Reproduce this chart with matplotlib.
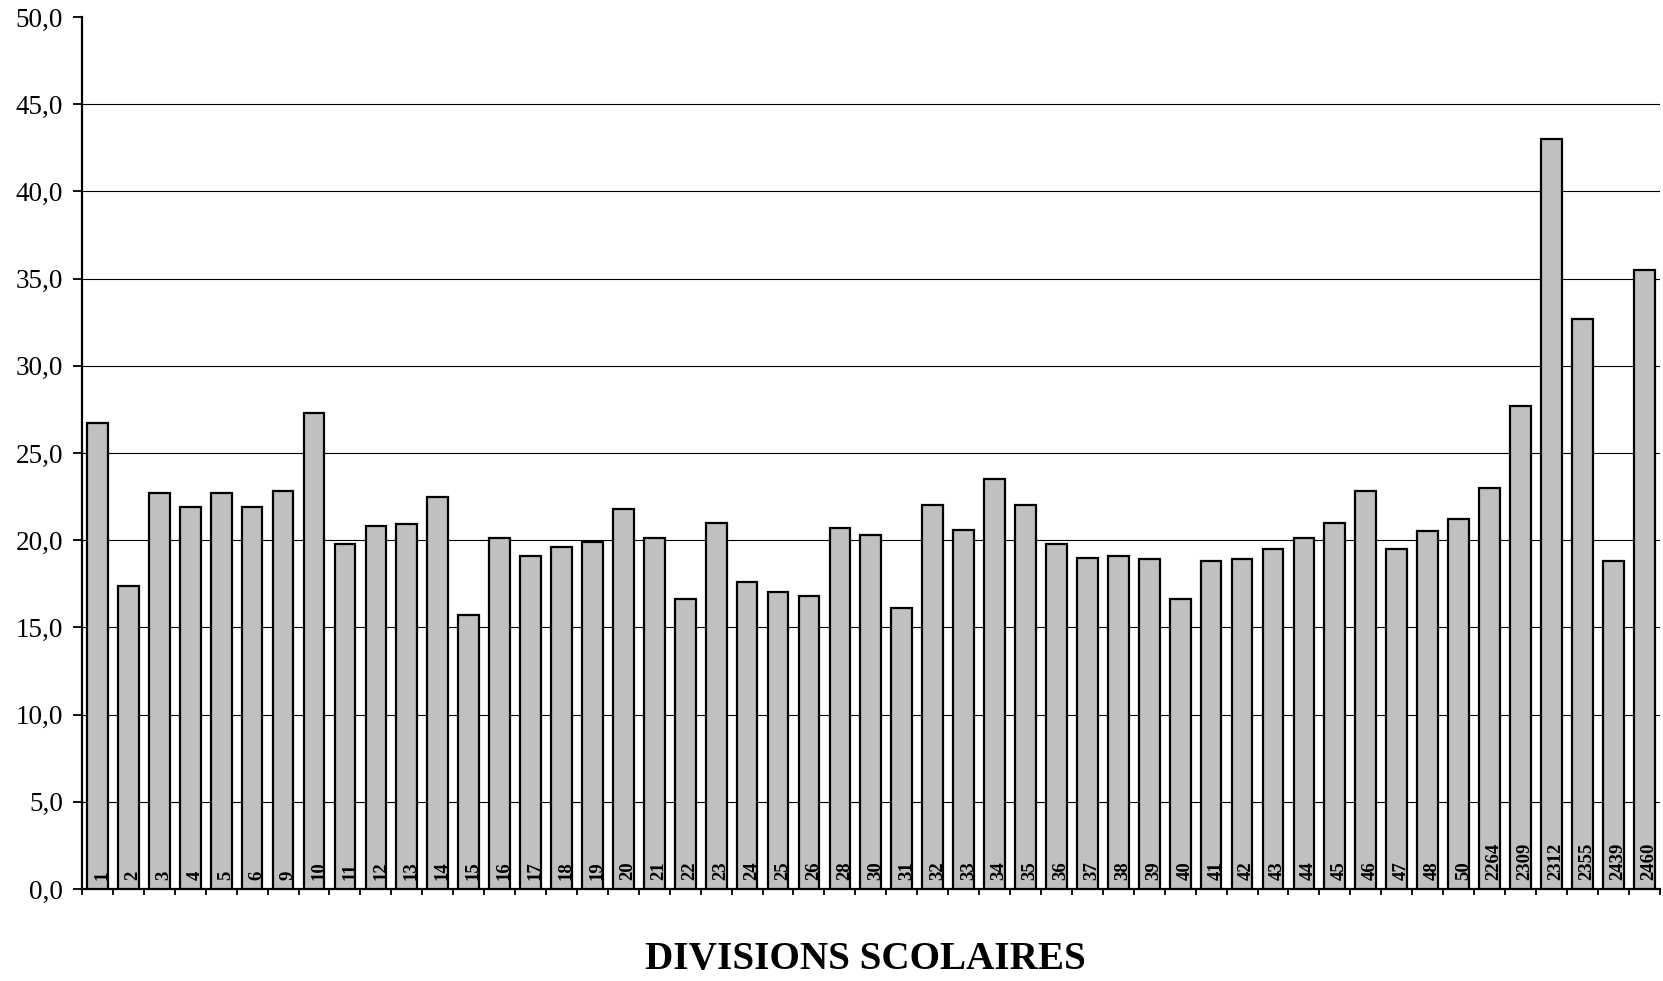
import matplotlib

matplotlib.use("Agg")

import matplotlib.pyplot as plt
import numpy as np
from matplotlib.ticker import FuncFormatter, MultipleLocator

divisions = [
    "1", "2", "3", "4", "5", "6", "9", "10", "11", "12", "13", "14", "15",
    "16", "17", "18", "19", "20", "21", "22", "23", "24", "25", "26", "28",
    "30", "31", "32", "33", "34", "35", "36", "37", "38", "39", "40", "41",
    "42", "43", "44", "45", "46", "47", "48", "50", "2264", "2309", "2312",
    "2355", "2439", "2460",
]
values = [
    26.7, 17.4, 22.7, 21.9, 22.7, 21.9, 22.8, 27.3, 19.8, 20.8, 20.9, 22.5, 15.7,
    20.1, 19.1, 19.6, 19.9, 21.8, 20.1, 16.6, 21.0, 17.6, 17.0, 16.8, 20.7,
    20.3, 16.1, 22.0, 20.6, 23.5, 22.0, 19.8, 19.0, 19.1, 18.9, 16.6, 18.8,
    18.9, 19.5, 20.1, 21.0, 22.8, 19.5, 20.5, 21.2, 23.0, 27.7, 43.0,
    32.7, 18.8, 35.5,
]
x_title = "DIVISIONS SCOLAIRES"

plt.rcParams["font.family"] = ["Liberation Serif", "DejaVu Serif"]

fig = plt.figure(figsize=(16.63, 9.81), dpi=100)
ax = fig.add_axes([0.0493, 0.0938, 0.9487, 0.8889])

x = np.arange(len(divisions))
ax.bar(x, values, width=0.67, color="#c0c0c0", edgecolor="black", linewidth=1.6, zorder=3)

for xi, label in zip(x, divisions):
    ax.text(xi + 0.15, 0.5, label, rotation=90, ha="center", va="bottom",
            fontsize=13.5, fontweight="bold", zorder=4)

ax.set_xlim(-0.5, len(divisions) - 0.5)
ax.set_ylim(0, 50)
ax.yaxis.set_major_locator(MultipleLocator(5))
ax.yaxis.set_major_formatter(FuncFormatter(lambda v, _: f"{v:.1f}".replace(".", ",")))
ax.set_xticks(np.arange(-0.5, len(divisions), 1.0))
ax.set_xticklabels([])

ax.grid(axis="y", color="black", linewidth=0.8, zorder=0)
fig.canvas.draw()
for tick_value, line in zip(ax.get_yticks(), ax.get_ygridlines()):
    if tick_value <= 0 or tick_value >= 50:
        line.set_visible(False)

for side in ("top", "right"):
    ax.spines[side].set_visible(False)
ax.spines["left"].set_linewidth(1.6)
ax.spines["bottom"].set_linewidth(1.6)
ax.tick_params(axis="y", length=6.5, width=1.3, labelsize=19.5, pad=7)
ax.tick_params(axis="x", length=4, width=1.3)

fig.text(865.5 / 1663, 1 - 960 / 981, x_title, ha="center", va="center",
         fontsize=28.2, fontweight="bold")

fig.savefig("out.png", dpi=100)
